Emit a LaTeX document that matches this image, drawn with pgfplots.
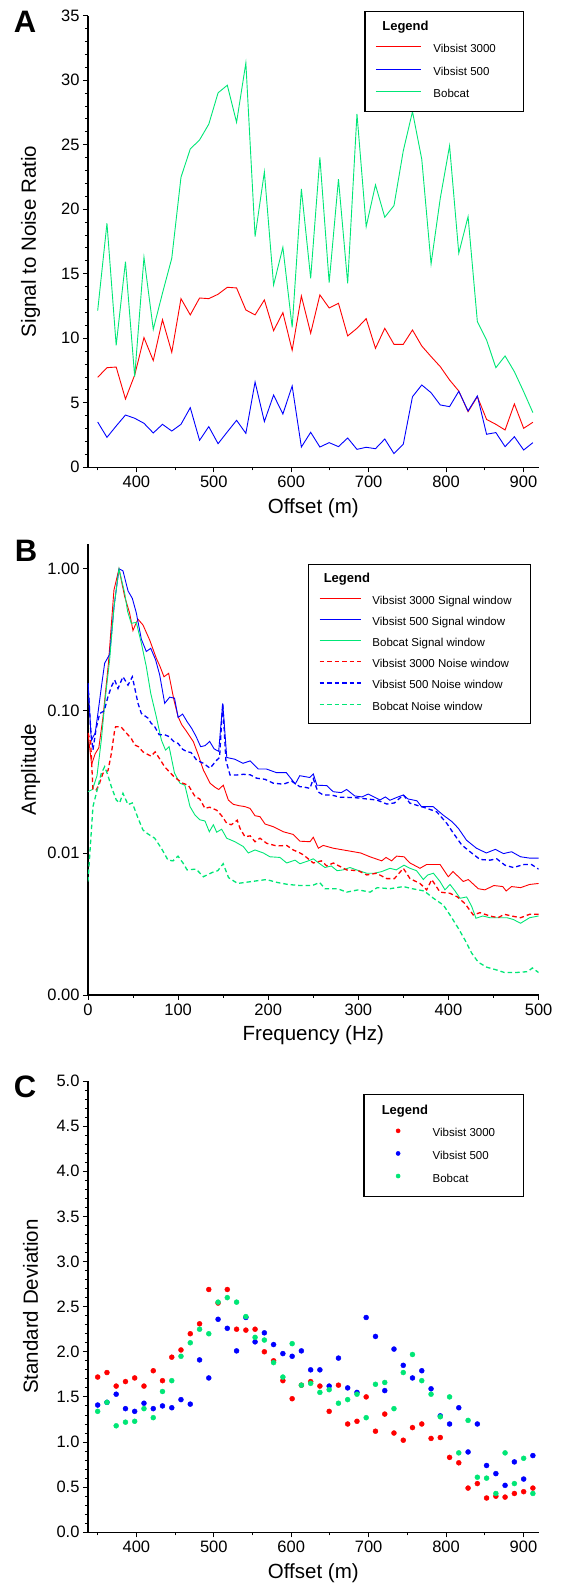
\documentclass[border=0pt]{standalone}
\usepackage{pgfplots}
\pgfplotsset{compat=1.18}
\usepackage{pgfplotstable}
\usepackage{fontspec}
\setmainfont{Liberation Sans}

\definecolor{cred}{RGB}{255,0,0}
\definecolor{cblue}{RGB}{0,0,255}
\definecolor{cgreen}{RGB}{0,230,118}

\pgfplotstableread{
x red blue green
350.0 6.97 3.51 12.14
362.0 7.72 2.32 18.91
373.9 7.77 3.20 9.45
385.9 5.29 4.05 15.94
397.8 7.15 3.80 7.03
409.8 10.05 3.41 16.27
421.8 8.27 2.66 10.69
433.7 11.44 3.33 13.5
445.7 8.91 2.81 16.2
457.6 13.07 3.33 22.48
469.6 11.81 4.62 24.67
481.6 13.12 2.09 25.37
493.5 13.07 3.15 26.59
505.5 13.41 1.83 29.02
517.4 13.95 2.74 29.61
529.4 13.90 3.64 26.74
541.4 12.19 2.63 31.34
553.3 11.81 6.61 17.88
565.3 12.97 3.54 22.89
577.2 10.59 5.60 14.13
589.2 11.99 4.13 17.05
601.2 9.07 6.30 10.85
613.1 13.28 1.57 21.57
625.1 10.39 2.71 14.65
637.0 13.36 1.57 24.02
649.0 12.35 1.91 14.31
661.0 12.71 1.60 22.33
672.9 10.18 2.27 14.26
684.9 10.77 1.39 27.39
696.8 11.52 1.55 18.65
708.8 9.22 1.44 21.89
720.8 10.77 2.19 19.38
732.7 9.53 1.06 20.28
744.7 9.53 1.78 24.52
756.6 10.64 5.47 27.57
768.6 9.40 6.38 23.87
780.6 8.58 5.78 15.76
792.5 7.80 4.83 20.85
804.5 6.77 4.70 24.91
816.4 5.91 5.89 16.59
828.4 4.31 4.36 19.43
840.4 5.47 5.53 11.29
852.3 3.71 2.56 9.87
864.3 3.33 2.69 7.72
876.2 2.89 1.60 8.63
888.2 4.91 2.37 7.41
900.2 3.02 1.34 5.86
912.1 3.49 1.91 4.24
}\snrdata

\pgfplotstableread{
x red blue green
350.0 1.72 1.41 1.34
362.0 1.77 1.44 1.44
373.9 1.62 1.53 1.18
385.9 1.67 1.37 1.22
397.8 1.71 1.34 1.23
409.8 1.62 1.43 1.37
421.8 1.79 1.37 1.27
433.7 1.68 1.40 1.56
445.7 1.94 1.38 1.68
457.6 2.02 1.47 1.95
469.6 2.20 1.42 2.10
481.6 2.31 1.91 2.25
493.5 2.69 1.71 2.20
505.5 2.54 2.36 2.55
517.4 2.69 2.26 2.60
529.4 2.25 2.01 2.55
541.4 2.24 2.38 2.39
553.3 2.25 2.11 2.16
565.3 2.00 2.21 2.13
577.2 1.90 2.08 1.88
589.2 1.68 1.98 1.72
601.2 1.48 1.95 2.09
613.1 1.63 2.01 1.63
625.1 1.67 1.80 1.65
637.0 1.62 1.80 1.55
649.0 1.34 1.62 1.58
661.0 1.63 1.93 1.43
672.9 1.20 1.60 1.47
684.9 1.23 1.55 1.53
696.8 1.50 2.38 1.27
708.8 1.12 2.17 1.64
720.8 1.31 1.57 1.66
732.7 1.10 2.03 1.37
744.7 1.02 1.85 1.77
756.6 1.16 1.71 1.97
768.6 1.20 1.79 1.68
780.6 1.04 1.59 1.53
792.5 1.05 1.29 1.28
804.5 0.83 1.20 1.50
816.4 0.77 1.38 0.88
828.4 0.49 0.89 1.24
840.4 0.54 1.20 0.61
852.3 0.38 0.74 0.60
864.3 0.40 0.65 0.43
876.2 0.39 0.52 0.88
888.2 0.43 0.78 0.54
900.2 0.45 0.59 0.82
912.1 0.49 0.85 0.43
}\sddata

\pgfplotsset{
  myaxis/.style={
    scale only axis, width=450.6pt,
    axis lines*=left,
    axis line style={line width=1.1pt, black},
    tick align=outside, major tick length=5pt, minor tick length=3pt,
    every tick/.style={black, line width=0.9pt},
    tick label style={font=\fontsize{16.5}{18}\selectfont},
    label style={font=\fontsize{20.5}{23}\selectfont},
    /pgf/number format/assume math mode=true,
    xlabel style={at={(axis description cs:0.5,-0.0908)}, anchor=center},
    ylabel style={at={(axis description cs:-0.1276,0.5)}, anchor=center},
    legend cell align=left,
  },
}

\begin{document}
\begin{tikzpicture}
\path[use as bounding box] (0pt,0pt) rectangle (563pt,1585pt);

% ---------------- Panel A ----------------
\node[font=\bfseries\fontsize{31}{33}\selectfont] at (25.1pt,1563.3pt) {A};
\begin{axis}[myaxis,
  at={(88pt,1117.7pt)}, anchor=south west, height=451.6pt,
  xmin=337.5, xmax=919.5, ymin=0, ymax=35,
  xtick={400,500,600,700,800,900}, minor xtick={350,450,550,650,750,850},
  ytick={0,5,10,15,20,25,30,35}, minor y tick num=4,
  xlabel={Offset (m)}, ylabel={Signal to Noise Ratio},
  legend style={at={(axis description cs:0.6136,1.0111)}, anchor=north west,
    draw=black, line width=1.1pt, fill=white, inner xsep=0pt, inner ysep=11.1pt,
    row sep=11.5pt, column sep=0pt, font=\fontsize{11.5}{13}\selectfont,
    nodes={inner sep=0pt, text height=8pt, text depth=3pt}},
  legend image code/.code={\path (-10.5pt,0pt) (57pt,0pt);\draw[#1] (0pt,3.5pt) -- (45pt,3.5pt);},
]
\addlegendimage{empty legend}
\addlegendentry{\hspace*{-57pt}\textbf{\fontsize{13}{14}\selectfont Legend}}
\addplot[cred, line width=0.9pt] table[x=x, y=red] {\snrdata};
\addlegendentry{\makebox[89.7pt][l]{Vibsist 3000}}
\addplot[cblue, line width=0.9pt] table[x=x, y=blue] {\snrdata};
\addlegendentry{\makebox[89.7pt][l]{Vibsist 500}}
\addplot[cgreen, line width=0.9pt] table[x=x, y=green] {\snrdata};
\addlegendentry{\makebox[89.7pt][l]{Bobcat}}
\end{axis}

% ---------------- Panel B ----------------
\node[font=\bfseries\fontsize{31}{33}\selectfont] at (26pt,1034.5pt) {B};
\begin{axis}[myaxis,
  at={(88pt,590pt)}, anchor=south west, height=450.7pt,
  ymode=log, xmin=0, xmax=500, ymin=0.001, ymax=1.49,
  xtick={0,100,200,300,400,500}, minor xtick={50,150,250,350,450},
  ytick={0.001,0.01,0.1,1}, yticklabels={0.00,0.01,0.10,1.00},
  yminorticks=false,
  xlabel={Frequency (Hz)}, ylabel={Amplitude},
  xlabel style={at={(axis description cs:0.5,-0.0888)}},
  legend style={at={(axis description cs:0.4876,0.9556)}, anchor=north west,
    draw=black, line width=1.1pt, fill=white, inner xsep=0pt, inner ysep=10.1pt,
    row sep=10.2pt, column sep=0pt, font=\fontsize{11.5}{13}\selectfont,
    nodes={inner sep=0pt, text height=8pt, text depth=3pt}},
  legend image code/.code={\path (-10.8pt,0pt) (52.1pt,0pt);\draw[#1] (0pt,3.5pt) -- (41.3pt,3.5pt);},
]
\addlegendimage{empty legend}
\addlegendentry{\hspace*{-52.1pt}\textbf{\fontsize{13}{14}\selectfont Legend}}
\addplot[cred, line width=0.9pt] coordinates {
(0,0.070) (4,0.042) (8,0.050) (12,0.055) (16.7,0.091) (22.7,0.217) (28.8,0.71) (34.4,1.0) (40.7,0.638) (46.2,0.488) (49.9,0.368) (52.5,0.403) (55.5,0.442) (61,0.403) (68.4,0.316) (75.8,0.235) (80,0.205) (84.3,0.174) (89.5,0.184) (95.4,0.119) (100,0.091) (104,0.080) (109.5,0.0715) (116.9,0.0608) (122.4,0.049) (128,0.0384) (135.4,0.031) (141,0.029) (145,0.028) (150.1,0.030) (155.7,0.0236) (161.2,0.022) (168,0.0215) (174,0.0212) (179.8,0.0206) (185.3,0.0183) (190.9,0.018) (196.4,0.016) (205.6,0.0153) (216.7,0.0141) (227.8,0.0135) (235.2,0.0121) (246.3,0.012) (250,0.0129) (255.6,0.0108) (261,0.0113) (272.2,0.0108) (287,0.0104) (302.5,0.0100) (312.9,0.0094) (325.9,0.0088) (330.7,0.0093) (336.9,0.0088) (342.4,0.0095) (350.6,0.0094) (357.3,0.0085) (368.4,0.0078) (375.8,0.0083) (390.6,0.0083) (399.8,0.0068) (405,0.0074) (416.5,0.0063) (422,0.0065) (433.1,0.0056) (440.5,0.0055) (450.3,0.0059) (460.2,0.0058) (464,0.0054) (470,0.0058) (480,0.0057) (490,0.0060) (500,0.0061)
};
\addlegendentry{\makebox[158.3pt][l]{Vibsist 3000 Signal window}}
\addplot[cblue, line width=0.9pt] coordinates {
(0,0.157) (3.7,0.062) (8,0.070) (11,0.096) (15,0.15) (18.5,0.217) (24,0.25) (29,0.55) (34.4,1.0) (38.8,0.97) (44.4,0.70) (49.2,0.62) (53.6,0.49) (59.2,0.32) (64.7,0.262) (69.6,0.276) (75,0.229) (79.5,0.18) (85.1,0.113) (90.6,0.125) (96,0.123) (100,0.090) (105,0.095) (110,0.084) (115,0.0755) (120,0.066) (125,0.056) (130,0.057) (135,0.061) (140,0.054) (145,0.052) (149.5,0.113) (154,0.047) (163,0.0457) (172,0.0428) (180,0.0445) (189,0.039) (198,0.039) (209,0.0368) (220,0.0368) (230,0.0306) (235,0.035) (246,0.034) (250,0.036) (254,0.030) (265,0.0298) (272,0.027) (281,0.0266) (287,0.028) (296,0.0252) (304,0.0248) (311,0.026) (324,0.0236) (330,0.0248) (335,0.0235) (344,0.0248) (350,0.0256) (355,0.024) (365,0.0233) (370,0.0212) (383,0.0212) (394,0.0185) (404,0.0166) (411,0.0149) (420,0.0123) (431,0.0108) (442,0.010) (452,0.0106) (461,0.0099) (470,0.0102) (480,0.0094) (490,0.0092) (500,0.0092)
};
\addlegendentry{\makebox[158.3pt][l]{Vibsist 500 Signal window}}
\addplot[cgreen, line width=0.9pt] coordinates {
(0,0.027) (5,0.028) (10,0.035) (14.8,0.0625) (19,0.12) (24,0.229) (29,0.55) (34.4,1.0) (40.7,0.674) (44,0.50) (48,0.414) (53.6,0.42) (59.2,0.30) (64.7,0.205) (69.6,0.133) (75.8,0.091) (81.4,0.0625) (86,0.053) (90,0.056) (96,0.0365) (102,0.031) (107.5,0.030) (113.2,0.0212) (118.7,0.0185) (124.3,0.0171) (129.8,0.0168) (134.6,0.0141) (139.1,0.0158) (142.8,0.014) (148.3,0.0147) (153.9,0.0127) (163,0.0120) (172.3,0.0111) (177.9,0.0100) (185.3,0.0105) (194.5,0.0100) (201.9,0.0094) (213,0.0093) (220.5,0.0085) (229.7,0.0089) (235.2,0.0084) (244.5,0.0088) (250,0.0091) (256,0.0085) (263,0.0079) (270,0.0081) (276.4,0.0075) (283,0.0076) (290.7,0.0079) (298,0.0076) (309.3,0.0072) (318,0.0072) (326,0.0074) (335.1,0.0078) (342,0.0076) (350.6,0.0082) (357.3,0.0078) (364.6,0.0075) (372.1,0.0065) (377,0.0070) (383.3,0.0072) (390.6,0.0063) (396.1,0.0055) (401.7,0.0060) (407.3,0.0054) (412.8,0.0048) (420.2,0.0049) (425.8,0.0042) (430.5,0.00347) (438,0.0036) (446,0.0035) (455,0.0035) (465,0.0035) (472,0.0034) (480,0.0032) (490,0.0035) (500,0.0036)
};
\addlegendentry{\makebox[158.3pt][l]{Bobcat Signal window}}
\addplot[cred, line width=1.3pt, dash pattern=on 4.5pt off 3pt] coordinates {
(0,0.070) (3,0.060) (5.5,0.0278) (9.2,0.0278) (12,0.030) (16.6,0.0364) (22.2,0.038) (25.9,0.050) (29.6,0.0735) (30.7,0.0775) (36.4,0.0775) (44.4,0.0678) (48,0.064) (52,0.0575) (56,0.056) (61,0.0515) (70,0.048) (74.5,0.0515) (80,0.0455) (85,0.0405) (90,0.0374) (95.5,0.0344) (100,0.0327) (105,0.031) (111.3,0.030) (118.7,0.025) (124,0.024) (129.8,0.0206) (135,0.021) (142.8,0.020) (148.3,0.0183) (153.9,0.0162) (159,0.0158) (165.6,0.0170) (168.7,0.0149) (174.2,0.013) (180,0.0132) (185.3,0.012) (190.9,0.0127) (198.2,0.0117) (209.4,0.0112) (220.5,0.0113) (227.8,0.0105) (235.2,0.0100) (239,0.0097) (250,0.0085) (259,0.0088) (265,0.0081) (272.2,0.0085) (287,0.0076) (300,0.0075) (309.3,0.0070) (320,0.0072) (331.5,0.0066) (340,0.0066) (349.9,0.0078) (357.3,0.0066) (368.4,0.0061) (375.8,0.0055) (381.4,0.0065) (390.6,0.0053) (401.7,0.0052) (410,0.0049) (418.3,0.0044) (427.5,0.00366) (435,0.0038) (446,0.0036) (455,0.0035) (462,0.0037) (470,0.0036) (480,0.0035) (490,0.0037) (500,0.0037)
};
\addlegendentry{\makebox[158.3pt][l]{Vibsist 3000 Noise window}}
\addplot[cblue, line width=1.3pt, dash pattern=on 4.5pt off 3pt] coordinates {
(0,0.157) (3,0.074) (5.5,0.053) (9,0.075) (13,0.096) (18,0.100) (22,0.125) (25.9,0.148) (29.6,0.165) (33.3,0.144) (38.8,0.174) (44.4,0.152) (49.2,0.174) (55.5,0.113) (59.2,0.096) (66.6,0.089) (70,0.082) (74,0.0775) (79,0.068) (85,0.068) (90,0.066) (95,0.061) (100,0.059) (105,0.0537) (110,0.0515) (114.3,0.051) (120.6,0.045) (128,0.0428) (135.4,0.0395) (142.8,0.045) (146,0.047) (149.5,0.113) (153,0.045) (157.6,0.0354) (165,0.0354) (172.3,0.0358) (180,0.0355) (187.2,0.0336) (196.4,0.033) (205.6,0.031) (216.7,0.0305) (226,0.032) (235,0.0293) (240.8,0.029) (246.3,0.0285) (250,0.0333) (255,0.027) (261,0.0256) (270,0.0256) (279.6,0.0247) (290,0.0246) (300,0.0244) (309.3,0.024) (320.4,0.0236) (331.5,0.0221) (340,0.0225) (349.9,0.0256) (357.3,0.0224) (372.1,0.021) (386.9,0.0195) (398,0.0162) (405.4,0.0138) (414.6,0.0114) (423.9,0.0102) (435,0.0090) (446.1,0.0089) (453.5,0.0091) (462.7,0.0082) (472,0.0079) (484,0.0083) (492,0.0083) (500,0.0077)
};
\addlegendentry{\makebox[158.3pt][l]{Vibsist 500 Noise window}}
\addplot[cgreen, line width=1.3pt, dash pattern=on 4.5pt off 3pt] coordinates {
(0,0.0063) (5.5,0.0212) (11.1,0.0293) (14.8,0.0364) (18.5,0.0405) (22.2,0.035) (25.9,0.0293) (31.4,0.0236) (35.1,0.0225) (38.8,0.0263) (44.4,0.0219) (49.2,0.0225) (55.5,0.0176) (61,0.0145) (66.6,0.0136) (74,0.0127) (81.4,0.0108) (88.8,0.0089) (94.3,0.0088) (99.9,0.0095) (105.4,0.0085) (110,0.0076) (120,0.0077) (128,0.0068) (138,0.0073) (144,0.0075) (150,0.0084) (156,0.0067) (166,0.0061) (182,0.0063) (198,0.0065) (210,0.0062) (222,0.0060) (235,0.0059) (249,0.0059) (257,0.0062) (263,0.0056) (277,0.0056) (287,0.0053) (300,0.0055) (313,0.0053) (321,0.0057) (335,0.0056) (349.9,0.0058) (360,0.0056) (373,0.0054) (383.3,0.0048) (394.3,0.0043) (401.7,0.00366) (410.9,0.00295) (418.3,0.00244) (425.8,0.00197) (433.1,0.0017) (442.4,0.00157) (453.5,0.0015) (462,0.00144) (475,0.00144) (488,0.00146) (493,0.00155) (500,0.00144)
};
\addlegendentry{\makebox[158.3pt][l]{Bobcat Noise window}}
\end{axis}

% ---------------- Panel C ----------------
\node[font=\bfseries\fontsize{31}{33}\selectfont] at (25.1pt,498.3pt) {C};
\begin{axis}[myaxis,
  at={(88pt,52.7pt)}, anchor=south west, height=451.3pt,
  xmin=337.5, xmax=919.5, ymin=0, ymax=5,
  xtick={400,500,600,700,800,900}, minor xtick={350,450,550,650,750,850},
  ytick={0,0.5,1,1.5,2,2.5,3,3.5,4,4.5,5}, minor y tick num=4,
  yticklabel style={/pgf/number format/.cd, fixed, fixed zerofill, precision=1},
  xlabel={Offset (m)}, ylabel={Standard Deviation},
  legend style={at={(axis description cs:0.6112,0.9712)}, anchor=north west,
    draw=black, line width=1.1pt, fill=white, inner xsep=0pt, inner ysep=11.7pt,
    row sep=11.5pt, column sep=0pt, font=\fontsize{11.5}{13}\selectfont,
    nodes={inner sep=0pt, text height=8pt, text depth=3pt}},
  legend image code/.code={\path (-33.6pt,0pt) (34pt,0pt);\draw[#1, mark size=2.1pt] plot coordinates {(0pt,3.5pt)};},
]
\addlegendimage{empty legend}
\addlegendentry{\hspace*{-56.5pt}\textbf{\fontsize{13}{14}\selectfont Legend}}
\addplot[only marks, mark=*, mark size=2.5pt, color=cred, mark options={draw=cred, fill=cred, line width=0.4pt, solid}] table[x=x, y=red] {\sddata};
\addlegendentry{\makebox[90.4pt][l]{Vibsist 3000}}
\addplot[only marks, mark=*, mark size=2.5pt, color=cblue, mark options={draw=cblue, fill=cblue, line width=0.4pt, solid}] table[x=x, y=blue] {\sddata};
\addlegendentry{\makebox[90.4pt][l]{Vibsist 500}}
\addplot[only marks, mark=*, mark size=2.5pt, color=cgreen, mark options={draw=cgreen, fill=cgreen, line width=0.4pt, solid}] table[x=x, y=green] {\sddata};
\addlegendentry{\makebox[90.4pt][l]{Bobcat}}
\end{axis}
\end{tikzpicture}
\end{document}
